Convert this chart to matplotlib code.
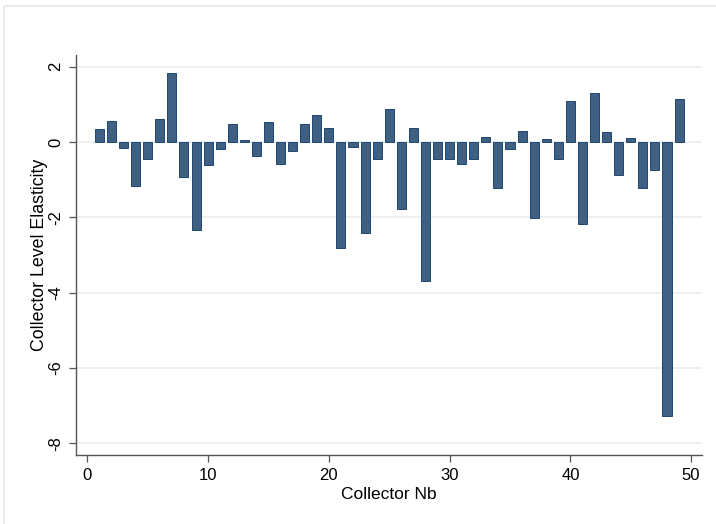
import matplotlib
matplotlib.use("Agg")
import matplotlib.pyplot as plt
from matplotlib.patches import Rectangle

plt.rcParams["font.family"] = ["Liberation Sans", "DejaVu Sans"]

# collector-level elasticity per collector
collectors = list(range(1, 50))
elasticity = [
    0.35, 0.57, -0.15, -1.18, -0.44, 0.60, 1.84, -0.92, -2.33, -0.62,
    -0.19, 0.47, 0.04, -0.36, 0.54, -0.59, -0.23, 0.47, 0.71, 0.38,
    -2.82, -0.13, -2.41, -0.44, 0.88, -1.77, 0.37, -3.69, -0.45, -0.46,
    -0.59, -0.46, 0.13, -1.22, -0.19, 0.28, -2.02, 0.09, -0.44, 1.08,
    -2.18, 1.31, 0.27, -0.88, 0.10, -1.22, -0.73, -7.28, 1.13,
]
x_ticks = [0, 10, 20, 30, 40, 50]
y_ticks = [2, 0, -2, -4, -6, -8]

fig = plt.figure(figsize=(7.16, 5.24), dpi=100)
W, H = 716, 524

# light outer frame of the graph region
fig.patches.append(Rectangle((4 / W, -0.1), 1.2, 1.1 - 6 / H,
                             transform=fig.transFigure, fill=False,
                             edgecolor="#e2e9ed", linewidth=1.2))

ax = fig.add_axes([76 / W, 1 - 455 / H, (702 - 76) / W, (455 - 55) / H])

ax.bar(collectors, elasticity, width=0.75, color="#3f5f83",
       edgecolor="#1f4670", linewidth=0.7, zorder=3)

ax.set_xlim(-0.94, 50.9)
ax.set_ylim(-8.31, 2.31)
ax.set_xticks(x_ticks)
ax.set_yticks(y_ticks)
ax.set_yticklabels([str(v) for v in y_ticks], rotation=90, va="center")

ax.grid(axis="y", color="#e6ecef", linewidth=1.1, zorder=0)
ax.set_axisbelow(True)

for side in ["top", "right"]:
    ax.spines[side].set_visible(False)
for side in ["left", "bottom"]:
    ax.spines[side].set_color("#555555")
    ax.spines[side].set_linewidth(1.0)

ax.tick_params(axis="both", direction="out", length=5, width=0.9,
               color="#555555", labelsize=12, labelcolor="black", pad=4)

ax.set_xlabel("Collector Nb", fontsize=12.5, labelpad=3)
ax.set_ylabel("Collector Level Elasticity", fontsize=12.8, labelpad=0)

fig.savefig("out.png", dpi=100)
